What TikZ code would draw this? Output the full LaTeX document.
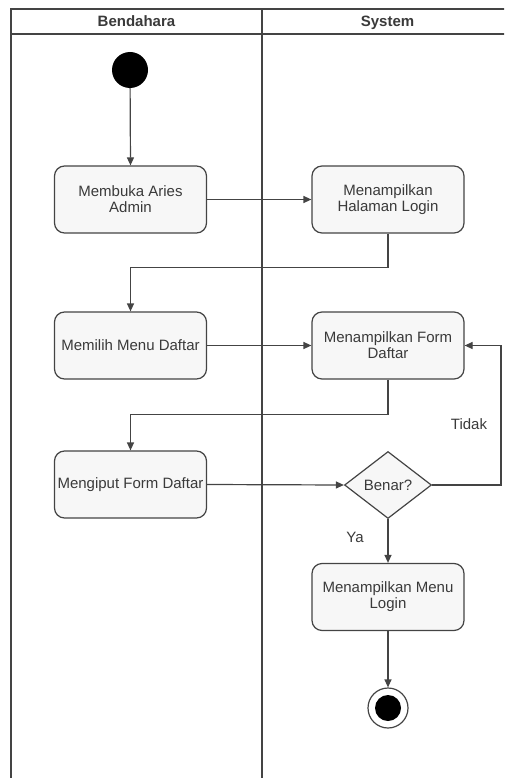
\documentclass[tikz,border=0pt]{standalone}
\usepackage{fontspec}
\setmainfont{Liberation Sans}
\usetikzlibrary{shapes.geometric,arrows.meta}
\definecolor{ink}{HTML}{444444}
\definecolor{txt}{HTML}{3A3A3A}
\definecolor{boxfill}{HTML}{F7F7F7}
\begin{document}
\begin{tikzpicture}[x=1pt,y=-1pt,
  font=\fontsize{15}{16}\selectfont,
  lane/.style={draw=ink,line width=1.3pt},
  activity/.style={draw=ink,line width=1.2pt,fill=boxfill,rounded corners=10pt,
    minimum width=152pt,minimum height=67pt,align=center,text=txt,inner sep=1pt},
  decision/.style={draw=ink,line width=1.2pt,fill=boxfill,diamond,aspect=1.3,
    minimum width=87pt,minimum height=67pt,inner sep=0pt,text=txt},
  flow/.style={draw=ink,line width=1.2pt,-{Triangle[length=8pt,width=7pt]}},
  lbl/.style={text=txt},
  head/.style={text=txt,font=\fontsize{15}{16}\selectfont\bfseries,anchor=base}]
\useasboundingbox (0,0) rectangle (504,778);
\begin{scope}
\clip (0,0) rectangle (504,778);
% swimlane frame
\draw[lane] (11,790) -- (11,9) -- (520,9);
\draw[lane] (11,34) -- (520,34);
\draw[lane] (262,9) -- (262,790);
\node[head] (laneA) at (136.5,27) {Bendahara};
\node[head] (laneB) at (387.5,27) {System};
\end{scope}

% start and end
\node[circle,fill=black,minimum size=36pt,inner sep=0pt] (start) at (130,70) {};
\node[circle,draw=ink,line width=1.2pt,minimum size=40pt,inner sep=0pt] (end) at (388,708) {};
\fill[black] (end.center) circle (13pt);

% activities
\node[activity] (b1) at (130.5,199.5) {Membuka Aries\\Admin};
\node[activity] (b2) at (388,199.5) {Menampilkan\\Halaman Login};
\node[activity] (b3) at (130.5,345.5) {Memilih Menu Daftar};
\node[activity] (b4) at (388,345.5) {Menampilkan Form\\Daftar};
\node[activity] (b5) at (130.5,484.5) {Mengiput Form Daftar};
\node[decision] (dia) at (388,485) {Benar?};
\node[activity] (b6) at (388,597) {Menampilkan Menu\\Login};

% flows
\draw[flow] (start) -- (b1.north);
\draw[flow] (b1.east) -- (b2.west);
\draw[flow] (b2.south) -- ++(0,34) -| (b3.north);
\draw[flow] (b3.east) -- (b4.west);
\draw[flow] (b4.south) -- ++(0,35) -| (b5.north);
\draw[flow] (b5.east) -- (dia.west);
\coordinate (back) at (501,485);
\draw[flow] (dia.east) -- (back) |- (b4.east);
\draw[flow] (dia.south) -- (b6.north);
\draw[flow] (b6.south) -- (end.north);

% guard labels
\node[lbl] (ya) at (355,537) {Ya};
\node[lbl] (tidak) at (469,424) {Tidak};
\end{tikzpicture}
\end{document}
